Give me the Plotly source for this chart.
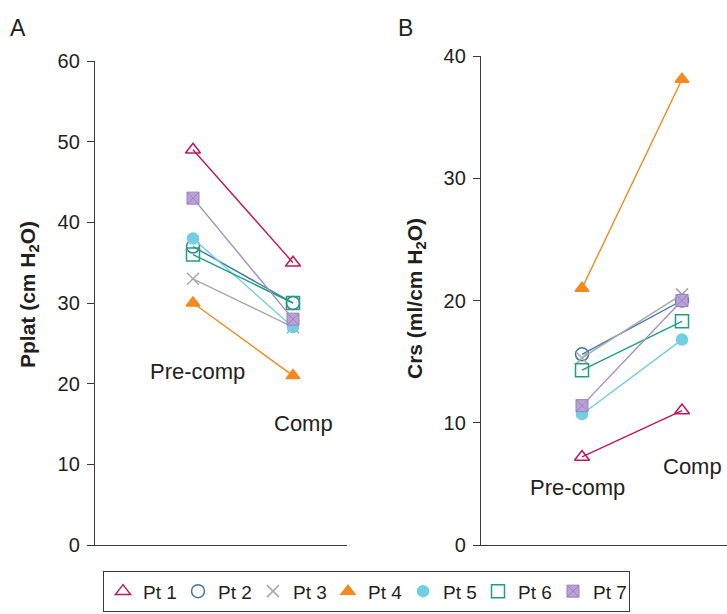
import plotly.graph_objects as go

phases = ["Pre-comp", "Comp"]
patients = ["Pt 1", "Pt 2", "Pt 3", "Pt 4", "Pt 5", "Pt 6", "Pt 7"]
pplat_pre = [49, 37, 33, 30, 38, 36, 43]
pplat_comp = [35, 30, 27, 21, 27, 30, 28]
crs_pre = [7.2, 15.6, 15.3, 21.0, 10.7, 14.3, 11.4]
crs_comp = [11.0, 20.0, 20.5, 38.1, 16.8, 18.3, 20.0]
pplat_ticks = [0, 10, 20, 30, 40, 50, 60]
crs_ticks = [0, 10, 20, 30, 40]

colors = ["#c4175a", "#3b78ab", "#a6a8aa", "#f5891f", "#72cfe2", "#1aa37a", "#a78bc6"]
symbols = ["triangle-up-open", "circle-open", "x-thin-open", "triangle-up", "circle", "square-open", "square-x"]
sizes = [13, 13, 12, 12, 11, 13, 12]

W, H = 727, 614
FONT = "Liberation Sans, Arial, Helvetica, sans-serif"
TXT = "#231f20"

fig = go.Figure()
xpos = [0, 1]


def marker(i):
    if symbols[i] == "square-x":
        return dict(symbol="square-x", size=sizes[i], color="#b9a3d6",
                    line=dict(color="#9c7fc0", width=1))
    return dict(symbol=symbols[i], size=sizes[i], color=colors[i],
                line=dict(color=colors[i], width=1.5))


for i, name in enumerate(patients):
    for xa, ya, vals in (("x", "y", [pplat_pre[i], pplat_comp[i]]),
                         ("x2", "y2", [crs_pre[i], crs_comp[i]])):
        fig.add_trace(go.Scatter(x=xpos, y=vals, mode="lines", legendgroup=name,
                                 line=dict(color=colors[i], width=1.4),
                                 xaxis=xa, yaxis=ya, showlegend=False, hoverinfo="skip"))
        fig.add_trace(go.Scatter(x=xpos, y=vals, mode="markers", name=name, legendgroup=name,
                                 marker=marker(i), xaxis=xa, yaxis=ya,
                                 showlegend=(xa == "x")))


def px_x(p):
    return p / W


def px_y(p):
    return (H - p) / H


axis_common = dict(showgrid=False, zeroline=False, showline=True, linecolor="#3a3a3a", linewidth=1.3)
yaxis_common = dict(ticks="outside", ticklen=7, tickwidth=1.2, tickcolor="#3a3a3a",
                    ticklabelstandoff=3, tickfont=dict(size=20, color=TXT))

fig.update_layout(
    width=W, height=H,
    margin=dict(l=0, r=0, t=0, b=0, autoexpand=False),
    paper_bgcolor="white", plot_bgcolor="white",
    font=dict(family=FONT, size=17, color=TXT),
    xaxis=dict(domain=[px_x(95), px_x(347)], range=[-0.98, 1.54], showticklabels=False,
               ticks="", anchor="y", **axis_common),
    yaxis=dict(domain=[px_y(545), px_y(61)], range=[0, 60], tickvals=pplat_ticks,
               anchor="x", **yaxis_common, **axis_common),
    xaxis2=dict(domain=[px_x(481), 1.0], range=[-1.01, 1.45], showticklabels=False,
                ticks="", anchor="y2", **axis_common),
    yaxis2=dict(domain=[px_y(545), px_y(56)], range=[0, 40], tickvals=crs_ticks,
                anchor="x2", **yaxis_common, **axis_common),
    legend=dict(orientation="h", x=px_x(103), y=px_y(571), xanchor="left", yanchor="top",
                bordercolor="#3a3a3a", borderwidth=1.3, bgcolor="white",
                font=dict(size=19, color=TXT), itemwidth=30,
                entrywidth=30, entrywidthmode="pixels", tracegroupgap=0),
)

annos = [
    dict(text="A", x=px_x(18), y=px_y(28), size=23),
    dict(text="B", x=px_x(405), y=px_y(28), size=23),
    dict(text="Pre-comp", x=px_x(197), y=px_y(371), size=22),
    dict(text="Comp", x=px_x(303), y=px_y(423), size=22),
    dict(text="Pre-comp", x=px_x(577), y=px_y(487), size=22),
    dict(text="Comp", x=px_x(692), y=px_y(466), size=22),
]
for a in annos:
    fig.add_annotation(text=a["text"], x=a["x"], y=a["y"], xref="paper", yref="paper",
                       showarrow=False, xanchor="center", yanchor="middle",
                       font=dict(size=a["size"], color=TXT, family=FONT))

fig.add_annotation(text="<b>Pplat (cm H<sub>2</sub>O)</b>", x=px_x(29), y=px_y(295),
                   xref="paper", yref="paper", showarrow=False, textangle=-90,
                   xanchor="center", yanchor="middle", font=dict(size=21, color=TXT, family=FONT))
fig.add_annotation(text="<b>Crs (ml/cm H<sub>2</sub>O)</b>", x=px_x(416), y=px_y(299),
                   xref="paper", yref="paper", showarrow=False, textangle=-90,
                   xanchor="center", yanchor="middle", font=dict(size=21, color=TXT, family=FONT))

fig.write_html("out.html", config={"displayModeBar": False},
               post_script="document.body.style.margin='0px';")
